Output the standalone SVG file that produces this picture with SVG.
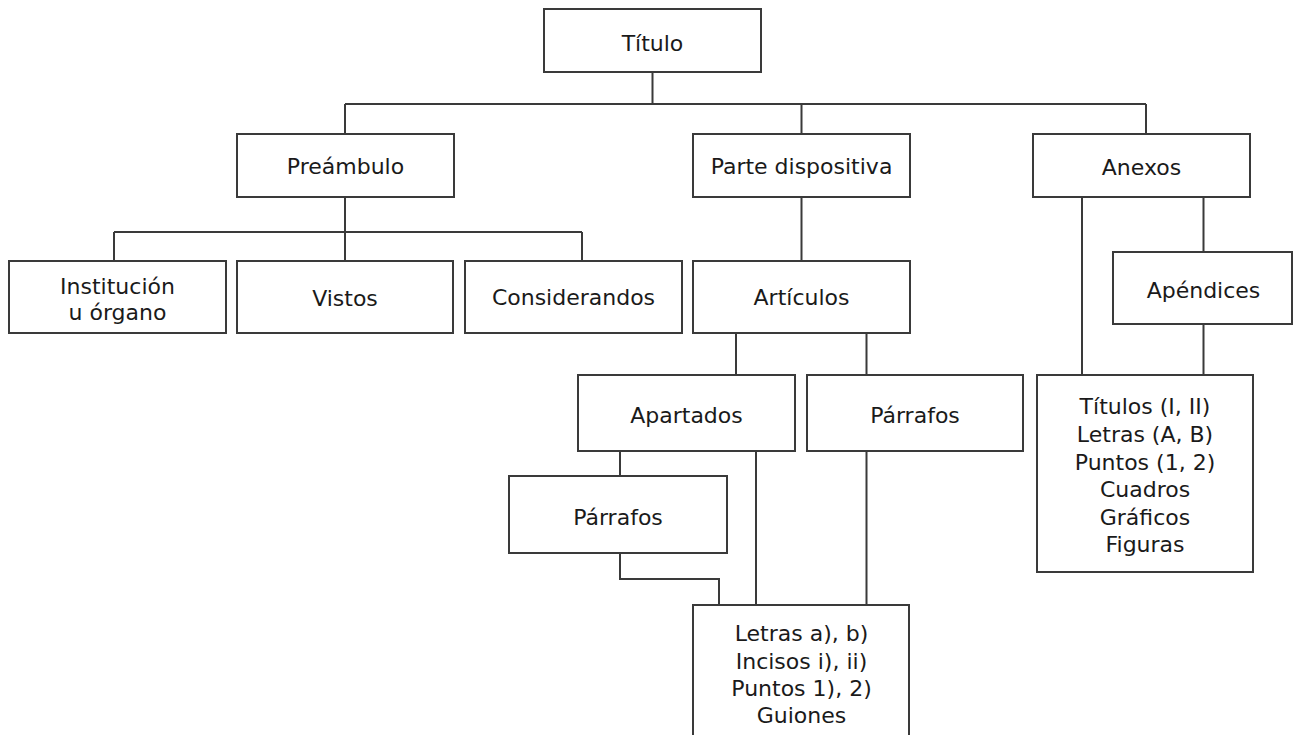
<svg xmlns="http://www.w3.org/2000/svg" width="1293" height="735" viewBox="0 0 1293 735">
<style>
.box{fill:#fff;stroke:#3a3a3a;stroke-width:2}
.ln{fill:none;stroke:#3a3a3a;stroke-width:2}
text{font-family:"DejaVu Sans","Liberation Sans",sans-serif;font-size:22px;fill:#1a1a1a;text-anchor:middle}
</style>
<rect width="1293" height="735" fill="#fff"/>
<g id="connectors">
<path class="ln" d="M652.5 72V104M345 104H1146M345 104V134M801.5 104V134M1146 104V134"/>
<path class="ln" d="M345 197V232M114 232H582M114 232V261M345 232V261M582 232V261"/>
<path class="ln" d="M801.5 197V261M736 333V375M866.5 333V375"/>
<path class="ln" d="M620 451V476M756 451V605M620 553V579H719V605M866.5 451V605"/>
<path class="ln" d="M1082 197V375M1203.5 197V252M1203.5 324V375"/>
</g>
<g id="titulo"><rect class="box" x="544" y="9" width="217" height="63"/><text x="652.5" y="50.5">Título</text></g>
<g id="preambulo"><rect class="box" x="237" y="134" width="217" height="63"/><text x="345.5" y="174">Preámbulo</text></g>
<g id="parte"><rect class="box" x="693" y="134" width="217" height="63"/><text x="801.5" y="174">Parte dispositiva</text></g>
<g id="anexos"><rect class="box" x="1033" y="134" width="217" height="63"/><text x="1141.5" y="175">Anexos</text></g>
<g id="institucion"><rect class="box" x="9" y="261" width="217" height="72"/><text x="117.5" y="293.5">Institución</text><text x="117.5" y="320">u órgano</text></g>
<g id="vistos"><rect class="box" x="237" y="261" width="216" height="72"/><text x="345" y="306">Vistos</text></g>
<g id="considerandos"><rect class="box" x="465" y="261" width="217" height="72"/><text x="573.5" y="305">Considerandos</text></g>
<g id="articulos"><rect class="box" x="693" y="261" width="217" height="72"/><text x="801.5" y="305">Artículos</text></g>
<g id="apendices"><rect class="box" x="1113" y="252" width="179" height="72"/><text x="1203.5" y="298">Apéndices</text></g>
<g id="apartados"><rect class="box" x="578" y="375" width="217" height="76"/><text x="686.5" y="423">Apartados</text></g>
<g id="parrafos-r"><rect class="box" x="807" y="375" width="216" height="76"/><text x="915" y="423">Párrafos</text></g>
<g id="parrafos-l"><rect class="box" x="509" y="476" width="218" height="77"/><text x="618" y="524.5">Párrafos</text></g>
<g id="titulos"><rect class="box" x="1037" y="375" width="216" height="197"/>
<text x="1145" y="414">Títulos (I, II)</text><text x="1145" y="442">Letras (A, B)</text><text x="1145" y="469.5">Puntos (1, 2)</text><text x="1145" y="497">Cuadros</text><text x="1145" y="524.5">Gráficos</text><text x="1145" y="552">Figuras</text></g>
<g id="letras"><rect class="box" x="693" y="605" width="216" height="140"/>
<text x="801.5" y="641">Letras a), b)</text><text x="801.5" y="668.5">Incisos i), ii)</text><text x="801.5" y="696">Puntos 1), 2)</text><text x="801.5" y="723">Guiones</text></g>
</svg>
